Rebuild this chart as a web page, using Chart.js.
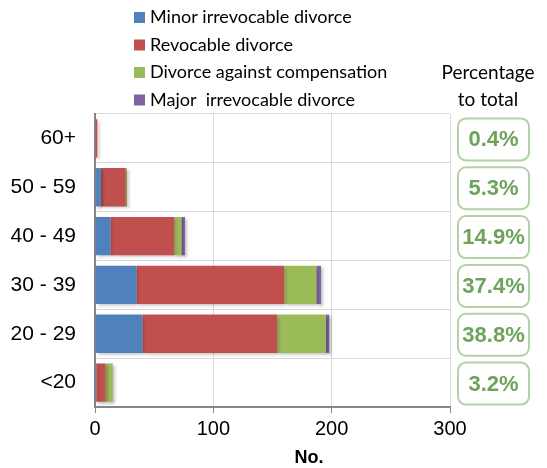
<!DOCTYPE html>
<html lang="en">
<head>
<meta charset="UTF-8">
<title>Divorce types by age group</title>
<script src="https://cdn.jsdelivr.net/npm/chart.js"></script>
<style>
  html, body { margin: 0; padding: 0; background: #fff; }
  #wrap { width: 547px; height: 468px; position: relative; }
</style>
</head>
<body>
<div id="wrap"><canvas id="chart" width="547" height="468"></canvas></div>
<script>
// age groups, top to bottom
const ageGroups = ['60+', '50 - 59', '40 - 49', '30 - 39', '20 - 29', '<20'];

const minorIrrevocable = [0, 5, 13, 35, 40, 1];
const revocable = [2, 21, 54, 125, 114, 8];
const againstCompensation = [0, 1, 6, 27, 41, 6];
const majorIrrevocable = [0, 0, 3, 4, 3, 0];

const percentLabels = ['0.4%', '5.3%', '14.9%', '37.4%', '38.8%', '3.2%'];

const seriesNames = ['Minor irrevocable divorce', 'Revocable divorce', 'Divorce against compensation', 'Major  irrevocable divorce'];
const seriesColors = ['#4f81bd', '#c0504d', '#9bbb59', '#8064a2'];

const xTicks = [0, 100, 200, 300];

// legend drawn as a vertical list + percentage boxes on the right
const extras = {
    id: 'extras',
    beforeDatasetsDraw(chart) {
        const ctx = chart.ctx;
        ctx.save();
        ctx.shadowColor = 'rgba(0,0,0,0.25)';
        ctx.shadowBlur = 3;
        ctx.shadowOffsetX = 2;
        ctx.shadowOffsetY = 2;
    },
    afterDatasetsDraw(chart) {
        chart.ctx.restore();
    },
    afterDraw(chart) {
        const ctx = chart.ctx;
        ctx.save();
        // legend
        ctx.font = '18px Lato';
        ctx.textBaseline = 'middle';
        ctx.textAlign = 'left';
        chart.data.datasets.forEach((ds, i) => {
            const y = 17.5 + i * 27.5;
            ctx.fillStyle = ds.backgroundColor;
            ctx.fillRect(134, y - 5.5, 11, 11);
            ctx.fillStyle = '#000';
            ctx.fillText(ds.label, 150, y);
        });
        // header
        ctx.textAlign = 'center';
        ctx.font = '19px Lato';
        ctx.fillText('Percentage', 488, 73);
        ctx.fillText('to total', 488, 100);
        // axis title, sits left of centre in the original
        ctx.font = 'bold 18px "Liberation Sans", Arial';
        ctx.fillText('No.', 309, 458);
        // boxes
        const yScale = chart.scales.y;
        percentLabels.forEach((txt, i) => {
            const cy = yScale.getPixelForValue(i) + 1;
            const x = 458, w = 71, h = 42, y = cy - h / 2;
            ctx.beginPath();
            ctx.roundRect(x, y, w, h, 8);
            ctx.lineWidth = 2;
            ctx.strokeStyle = '#b3d1a6';
            ctx.stroke();
            ctx.fillStyle = '#6ea35c';
            ctx.font = 'bold 22px "Liberation Sans", Arial';
            ctx.fillText(txt, x + w / 2, cy + 1);
        });
        ctx.restore();
    }
};

const datasetValues = [minorIrrevocable, revocable, againstCompensation, majorIrrevocable];

new Chart(document.getElementById('chart').getContext('2d'), {
    type: 'bar',
    data: {
        labels: ageGroups,
        datasets: datasetValues.map((vals, i) => ({
            label: seriesNames[i],
            data: vals,
            backgroundColor: seriesColors[i],
            borderWidth: 0,
            categoryPercentage: 0.8,
            barPercentage: 0.98
        }))
    },
    options: {
        indexAxis: 'y',
        responsive: false,
        animation: false,
        layout: { padding: { top: 114, right: 97, left: 0, bottom: 0 } },
        plugins: {
            legend: { display: false },
            tooltip: { enabled: false }
        },
        scales: {
            x: {
                stacked: true,
                min: 0,
                max: 300,
                afterBuildTicks(s) { s.ticks = xTicks.map(v => ({ value: v })); },
                afterFit(s) { s.height = 61; },
                grid: { color: '#d9d9d9', tickColor: '#868686', tickLength: 6, drawOnChartArea: true },
                border: { color: '#868686', width: 2 },
                ticks: { color: '#000', font: { size: 20, family: '"Liberation Sans", Arial' }, padding: 4 },
                title: { display: false }
            },
            y: {
                stacked: true,
                afterFit(s) { s.width = 95; },
                grid: { color: '#d9d9d9', drawTicks: false, offset: true },
                border: { color: '#868686', width: 2 },
                ticks: { color: '#000', font: { size: 21, family: '"Liberation Sans", Arial' }, padding: 19 }
            }
        }
    },
    plugins: [extras]
});
</script>
</body>
</html>
